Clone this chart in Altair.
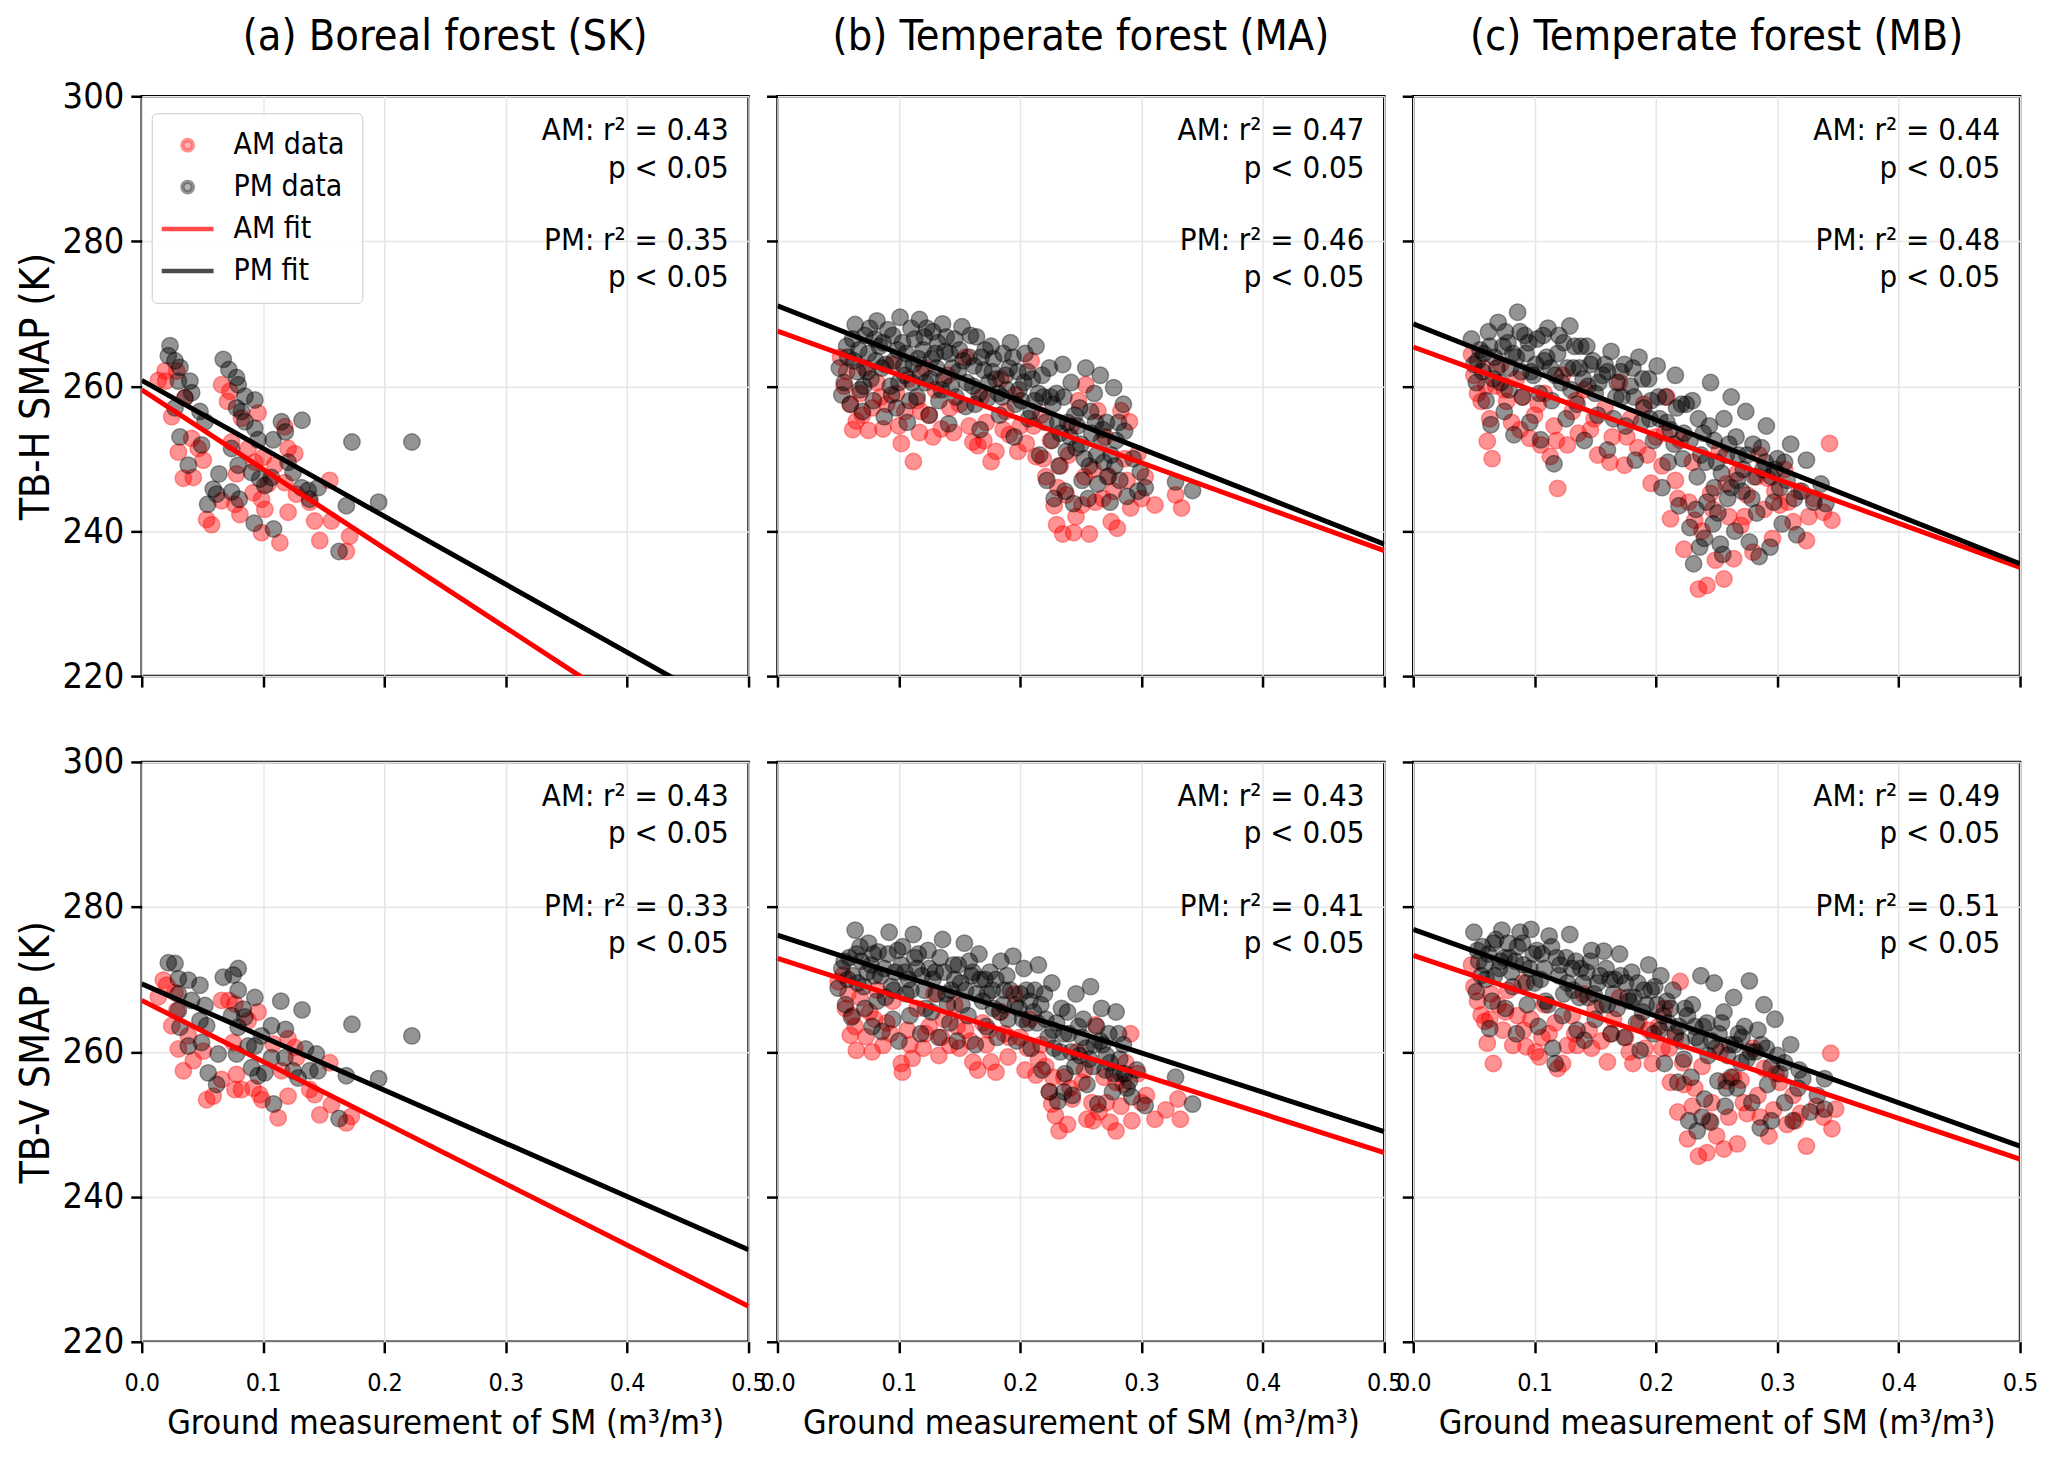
import altair as alt
import pandas as pd

FONT = "DejaVu Sans Condensed, DejaVu Sans"

SERIES = ["AM data", "PM data", "AM fit", "PM fit"]
X_TICKS = [0.0, 0.1, 0.2, 0.3, 0.4, 0.5]
Y_TICKS = [220, 240, 260, 280, 300]
FIT_X = [0.0, 0.5]
TITLES = ["(a) Boreal forest (SK)", "(b) Temperate forest (MA)", "(c) Temperate forest (MB)"]
Y_TITLES = ["TB-H SMAP (K)", "TB-V SMAP (K)"]
X_TITLE = "Ground measurement of SM (m³/m³)"

# ---------------- (a) SK, TB-H ----------------
SK_H_AM = [(0.0137, 260.8), (0.0192, 262.1), (0.0197, 260.7), (0.0247, 255.8), (0.0302, 250.9), (0.0343, 247.3),
           (0.0425, 247.4), (0.0411, 252.8), (0.0466, 251.4), (0.0507, 249.8), (0.0658, 260.2), (0.0707, 257.9),
           (0.0726, 259.3), (0.0959, 256.3), (0.0740, 252.3), (0.0781, 247.9), (0.0658, 244.2), (0.0535, 241.6),
           (0.0576, 240.9), (0.0768, 243.7), (0.0809, 242.3), (0.0918, 245.3), (0.0987, 244.4), (0.1014, 243.0),
           (0.0987, 239.8), (0.1138, 238.4), (0.1206, 242.6), (0.1001, 250.2), (0.1096, 249.1), (0.1179, 246.7),
           (0.1206, 251.4), (0.1261, 250.7), (0.1179, 254.4), (0.1275, 245.1), (0.1384, 244.0), (0.1425, 241.4),
           (0.1549, 247.0), (0.1563, 241.4), (0.1467, 238.7), (0.1686, 237.2), (0.1713, 239.3), (0.0288, 262.1),
           (0.0356, 258.4), (0.0877, 251.4), (0.0932, 249.5), (0.1042, 246.5), (0.0822, 255.6)]
SK_H_PM = [(0.0233, 265.6), (0.0219, 264.2), (0.0274, 263.5), (0.0315, 262.6), (0.0302, 260.7), (0.0397, 260.7),
           (0.0411, 259.1), (0.0356, 258.4), (0.0274, 257.0), (0.0480, 256.5), (0.0521, 255.1), (0.0315, 253.0),
           (0.0493, 251.9), (0.0384, 249.1), (0.0636, 247.9), (0.0589, 245.8), (0.0617, 245.1), (0.0543, 243.7),
           (0.0740, 245.4), (0.0803, 244.4), (0.0672, 263.7), (0.0718, 262.3), (0.0781, 261.2), (0.0795, 260.2),
           (0.0850, 258.6), (0.0932, 258.1), (0.0781, 257.0), (0.0822, 256.5), (0.0850, 255.1), (0.0932, 254.2),
           (0.0740, 251.4), (0.0795, 249.1), (0.0905, 248.1), (0.0973, 247.2), (0.1014, 246.3), (0.1069, 247.4),
           (0.1083, 252.6), (0.1151, 255.1), (0.1184, 253.7), (0.1321, 255.3), (0.1247, 248.1), (0.1316, 246.0),
           (0.1371, 245.6), (0.1453, 246.0), (0.1384, 244.4), (0.1732, 252.3), (0.2226, 252.3), (0.1686, 243.5),
           (0.1952, 244.0), (0.0927, 241.1), (0.1086, 240.3), (0.1626, 237.2), (0.0959, 252.6), (0.1206, 249.5)]

# ---------------- (a) SK, TB-V ----------------
SK_V_AM = [(0.0137, 267.6), (0.0178, 269.9), (0.0206, 269.2), (0.0247, 263.6), (0.0288, 265.7), (0.0302, 260.4),
           (0.0343, 257.4), (0.0425, 258.8), (0.0384, 262.2), (0.0507, 260.1), (0.0535, 253.4), (0.0589, 253.9),
           (0.0658, 256.2), (0.0658, 267.1), (0.0718, 267.1), (0.0768, 266.6), (0.0781, 256.9), (0.0768, 254.8),
           (0.0822, 254.8), (0.0918, 255.0), (0.0959, 265.5), (0.0973, 254.1), (0.0992, 253.4), (0.1124, 250.9),
           (0.1206, 253.9), (0.1151, 257.4), (0.1206, 261.8), (0.1261, 260.6), (0.1275, 259.2), (0.1384, 254.8),
           (0.1425, 254.1), (0.1467, 251.3), (0.1549, 258.5), (0.1563, 252.7), (0.1686, 250.2), (0.1727, 251.1),
           (0.1083, 261.1), (0.0754, 261.3), (0.0877, 264.3), (0.0274, 268.2)]
SK_V_PM = [(0.0219, 272.3), (0.0274, 272.2), (0.0302, 270.1), (0.0384, 269.9), (0.0480, 269.2), (0.0411, 267.1),
           (0.0302, 268.0), (0.0521, 266.4), (0.0480, 264.3), (0.0535, 263.6), (0.0302, 265.7), (0.0315, 263.4),
           (0.0384, 260.8), (0.0493, 261.3), (0.0630, 259.7), (0.0548, 257.1), (0.0617, 255.5), (0.0672, 270.3),
           (0.0754, 270.6), (0.0795, 271.5), (0.0795, 268.5), (0.0836, 265.9), (0.0850, 264.8), (0.0740, 265.0),
           (0.0795, 263.4), (0.0932, 267.5), (0.0781, 259.7), (0.0877, 260.8), (0.0932, 260.8), (0.0905, 257.8),
           (0.0959, 256.7), (0.1014, 257.1), (0.1069, 263.6), (0.1146, 267.0), (0.1184, 263.1), (0.1321, 265.8),
           (0.1069, 259.2), (0.1179, 259.2), (0.1247, 257.4), (0.1288, 256.4), (0.1349, 260.4), (0.1439, 259.7),
           (0.1384, 257.4), (0.1453, 257.4), (0.1732, 263.8), (0.2226, 262.2), (0.1686, 256.7), (0.1952, 256.3),
           (0.1086, 252.8), (0.1626, 250.8), (0.0987, 262.2)]

# ---------------- (b) MA, TB-H ----------------
MA_H_AM = [(0.052, 264.0), (0.055, 260.0), (0.057, 262.0), (0.060, 257.5), (0.062, 254.0), (0.065, 255.2), (0.068, 259.0),
           (0.072, 262.5), (0.075, 253.9), (0.078, 257.0), (0.082, 260.5), (0.087, 254.1), (0.090, 257.5), (0.094, 263.0),
           (0.098, 259.0), (0.102, 252.1), (0.105, 256.5), (0.108, 261.0), (0.112, 249.6), (0.115, 258.0), (0.117, 253.6),
           (0.121, 262.5), (0.125, 256.0), (0.130, 259.5), (0.135, 254.1), (0.140, 261.5), (0.145, 253.6), (0.150, 257.5),
           (0.155, 264.0), (0.161, 252.3), (0.165, 251.8), (0.168, 258.5), (0.172, 255.0), (0.176, 249.6), (0.180, 251.0),
           (0.184, 261.0), (0.188, 256.5), (0.191, 253.3), (0.196, 258.8), (0.200, 254.5), (0.205, 252.1), (0.209, 263.5),
           (0.213, 250.3), (0.217, 256.0), (0.221, 247.5), (0.225, 252.5), (0.228, 243.5), (0.230, 240.9), (0.233, 249.0),
           (0.235, 239.6), (0.238, 245.0), (0.242, 254.5), (0.246, 242.0), (0.251, 243.6), (0.254, 260.2), (0.257, 239.6),
           (0.260, 248.5), (0.264, 256.6), (0.268, 244.5), (0.273, 247.6), (0.275, 241.3), (0.280, 240.4), (0.283, 256.6),
           (0.286, 250.0), (0.290, 255.1), (0.291, 243.2), (0.297, 250.7), (0.303, 247.5), (0.311, 243.6), (0.328, 245.0),
           (0.333, 243.2), (0.248, 258.0), (0.270, 253.0),
           (0.070, 256.0), (0.085, 258.5), (0.100, 254.5), (0.118, 256.5), (0.128, 253.0), (0.142, 257.0), (0.158, 254.5),
           (0.170, 252.5), (0.186, 254.0), (0.198, 251.0), (0.211, 254.5), (0.219, 250.0), (0.231, 246.0), (0.240, 250.5),
           (0.253, 247.5), (0.262, 244.0), (0.277, 245.5), (0.288, 247.0), (0.300, 244.5), (0.244, 239.8)]
MA_H_PM = [(0.051, 262.5), (0.053, 258.8), (0.055, 260.5), (0.058, 264.0), (0.060, 257.5), (0.062, 266.5), (0.064, 268.5),
           (0.066, 262.0), (0.068, 259.5), (0.070, 256.5), (0.072, 267.0), (0.075, 264.5), (0.077, 261.0), (0.079, 258.0),
           (0.082, 269.0), (0.084, 265.5), (0.086, 262.5), (0.088, 255.8), (0.091, 267.8), (0.093, 260.0), (0.096, 263.5),
           (0.098, 257.0), (0.101, 269.5), (0.103, 266.0), (0.105, 261.5), (0.107, 255.0), (0.110, 268.0), (0.112, 263.0),
           (0.115, 258.5), (0.117, 269.2), (0.120, 265.0), (0.122, 260.5), (0.125, 256.0), (0.128, 267.5), (0.131, 262.5),
           (0.133, 258.0), (0.136, 268.6), (0.138, 264.8), (0.141, 254.8), (0.143, 260.0), (0.146, 266.5), (0.149, 262.0),
           (0.152, 268.2), (0.155, 257.2), (0.158, 264.0), (0.161, 260.0), (0.164, 266.8), (0.167, 254.0), (0.170, 262.2),
           (0.173, 258.3), (0.176, 265.5), (0.180, 261.0), (0.183, 256.0), (0.186, 264.5), (0.189, 259.5), (0.192, 266.0),
           (0.195, 253.0), (0.198, 262.0), (0.201, 258.0), (0.204, 264.5), (0.207, 255.5), (0.210, 261.0), (0.213, 265.5),
           (0.216, 250.5), (0.219, 258.5), (0.222, 247.0), (0.224, 262.5), (0.226, 252.5), (0.228, 244.5), (0.230, 259.0),
           (0.232, 249.0), (0.235, 263.0), (0.237, 245.5), (0.239, 255.0), (0.242, 260.5), (0.244, 243.8), (0.246, 251.5),
           (0.249, 257.0), (0.251, 247.0), (0.254, 262.5), (0.256, 244.5), (0.259, 253.5), (0.261, 259.0), (0.264, 246.5),
           (0.266, 261.5), (0.269, 249.5), (0.271, 255.0), (0.274, 244.0), (0.277, 259.8), (0.279, 252.5), (0.282, 247.0),
           (0.285, 257.5), (0.288, 244.8), (0.293, 250.0), (0.297, 245.5), (0.303, 246.0), (0.328, 246.8), (0.342, 245.6),
           (0.286, 253.8), (0.299, 248.2),
           (0.063, 263.5), (0.071, 260.0), (0.076, 268.0), (0.081, 263.5), (0.087, 266.0), (0.094, 258.8), (0.099, 265.0),
           (0.104, 262.8), (0.109, 258.0), (0.113, 266.5), (0.118, 261.8), (0.123, 268.0), (0.127, 263.8), (0.132, 266.0),
           (0.137, 261.0), (0.142, 264.5), (0.147, 258.5), (0.153, 263.5), (0.159, 267.0), (0.163, 257.5), (0.168, 264.0),
           (0.174, 260.5), (0.178, 263.8), (0.185, 258.5), (0.191, 262.5), (0.196, 257.5), (0.203, 260.5), (0.209, 256.5),
           (0.215, 259.0), (0.221, 255.0), (0.227, 257.5), (0.233, 253.5), (0.238, 251.0), (0.245, 256.0), (0.250, 252.0),
           (0.257, 249.0), (0.262, 255.0), (0.267, 252.5), (0.272, 247.5), (0.278, 249.0),
           (0.057, 265.5), (0.067, 265.0), (0.074, 262.0), (0.080, 266.5), (0.089, 263.0), (0.095, 267.0), (0.100, 260.5),
           (0.106, 264.5), (0.111, 260.5), (0.116, 263.8), (0.121, 266.8), (0.126, 261.0), (0.130, 264.5), (0.135, 259.5),
           (0.139, 266.8), (0.144, 262.5), (0.150, 265.0), (0.156, 260.5), (0.162, 262.8), (0.166, 259.0), (0.171, 265.0),
           (0.177, 262.0), (0.182, 259.0), (0.188, 261.5), (0.194, 264.0), (0.199, 259.5), (0.206, 262.0), (0.212, 258.0),
           (0.218, 261.5), (0.225, 258.5), (0.231, 255.0), (0.236, 258.5), (0.241, 253.0), (0.247, 254.5), (0.253, 250.0),
           (0.258, 256.5), (0.263, 250.5), (0.268, 254.0), (0.275, 250.5), (0.281, 255.0)]

# ---------------- (b) MA, TB-V ----------------
MA_V_AM = [(0.050, 269.7), (0.054, 270.6), (0.056, 266.0), (0.058, 268.0), (0.060, 262.3), (0.062, 265.0), (0.065, 260.2),
           (0.068, 267.5), (0.073, 262.1), (0.076, 265.5), (0.078, 260.0), (0.082, 268.5), (0.087, 260.9), (0.090, 264.0),
           (0.095, 267.0), (0.102, 258.4), (0.103, 257.2), (0.107, 263.0), (0.111, 259.1), (0.115, 266.0), (0.120, 260.5),
           (0.125, 263.5), (0.129, 268.0), (0.133, 259.5), (0.137, 264.5), (0.142, 260.9), (0.146, 266.5), (0.150, 260.5),
           (0.155, 263.0), (0.161, 258.6), (0.165, 257.5), (0.169, 264.0), (0.172, 261.0), (0.176, 258.6), (0.180, 257.2),
           (0.184, 265.5), (0.187, 262.5), (0.190, 259.3), (0.195, 268.0), (0.200, 262.0), (0.204, 257.5), (0.208, 264.5),
           (0.213, 256.8), (0.217, 261.0), (0.221, 258.0), (0.224, 254.5), (0.226, 252.8), (0.229, 251.2), (0.232, 249.1),
           (0.236, 256.5), (0.239, 250.0), (0.243, 253.5), (0.247, 260.0), (0.251, 255.8), (0.255, 250.7), (0.259, 253.0),
           (0.262, 263.7), (0.265, 251.7), (0.269, 256.5), (0.274, 250.3), (0.279, 249.1), (0.279, 255.8), (0.283, 252.5),
           (0.287, 258.5), (0.291, 262.5), (0.292, 250.5), (0.297, 257.0), (0.304, 254.0), (0.311, 250.7), (0.330, 253.5),
           (0.332, 250.7),
           (0.064, 263.5), (0.080, 264.5), (0.093, 262.5), (0.109, 261.0), (0.122, 262.5), (0.135, 262.0), (0.148, 263.5),
           (0.159, 261.5), (0.174, 263.0), (0.191, 262.0), (0.206, 260.5), (0.215, 259.0), (0.227, 256.5), (0.241, 255.0),
           (0.253, 257.5), (0.260, 250.5), (0.271, 253.0), (0.285, 255.5), (0.300, 253.0), (0.320, 252.0)]
MA_V_PM = [(0.050, 268.8), (0.053, 271.5), (0.056, 266.5), (0.059, 273.0), (0.061, 264.8), (0.064, 276.8), (0.066, 269.5),
           (0.069, 272.5), (0.072, 266.0), (0.075, 275.0), (0.078, 263.5), (0.080, 270.5), (0.083, 273.8), (0.086, 262.8),
           (0.089, 267.5), (0.092, 276.5), (0.095, 264.5), (0.097, 271.0), (0.100, 261.5), (0.103, 274.5), (0.106, 268.0),
           (0.109, 265.0), (0.112, 276.2), (0.115, 271.5), (0.118, 262.5), (0.121, 268.5), (0.124, 274.0), (0.127, 265.5),
           (0.130, 271.0), (0.133, 262.0), (0.136, 275.5), (0.139, 268.0), (0.142, 264.0), (0.145, 272.0), (0.148, 261.5),
           (0.151, 269.5), (0.154, 275.0), (0.157, 265.0), (0.160, 270.5), (0.163, 261.0), (0.166, 273.5), (0.169, 267.0),
           (0.172, 263.5), (0.175, 271.0), (0.178, 266.0), (0.181, 262.0), (0.184, 272.5), (0.187, 268.5), (0.190, 264.5),
           (0.194, 273.2), (0.197, 261.5), (0.200, 268.0), (0.203, 271.5), (0.206, 264.0), (0.209, 260.5), (0.212, 268.5),
           (0.215, 272.0), (0.218, 257.5), (0.221, 264.5), (0.224, 254.5), (0.226, 269.5), (0.228, 260.5), (0.231, 253.2),
           (0.234, 266.0), (0.237, 257.0), (0.240, 262.5), (0.243, 254.0), (0.246, 268.0), (0.249, 259.5), (0.252, 264.5),
           (0.255, 255.5), (0.258, 269.0), (0.261, 261.0), (0.264, 252.8), (0.267, 266.0), (0.270, 257.5), (0.273, 262.5),
           (0.276, 254.5), (0.279, 265.5), (0.282, 259.0), (0.285, 261.0), (0.288, 255.0), (0.292, 253.8), (0.296, 257.5),
           (0.303, 252.6), (0.328, 256.5), (0.342, 252.8),
           (0.058, 270.0), (0.065, 273.5), (0.071, 269.0), (0.077, 272.0), (0.082, 267.0), (0.088, 271.5), (0.094, 269.0),
           (0.099, 274.0), (0.105, 271.0), (0.110, 268.5), (0.116, 273.5), (0.122, 266.0), (0.128, 270.0), (0.134, 273.0),
           (0.140, 266.5), (0.146, 270.0), (0.152, 266.5), (0.158, 272.5), (0.164, 268.0), (0.171, 270.0), (0.177, 268.5),
           (0.183, 265.5), (0.189, 270.5), (0.196, 266.5), (0.202, 264.5), (0.208, 267.0), (0.214, 264.0), (0.220, 268.0),
           (0.227, 263.0), (0.233, 260.0), (0.239, 265.5), (0.245, 258.0), (0.251, 262.0), (0.257, 259.0), (0.263, 263.5),
           (0.268, 261.0), (0.274, 258.5), (0.281, 262.5), (0.236, 254.5), (0.286, 257.0),
           (0.055, 272.5), (0.062, 270.5), (0.068, 274.5), (0.074, 271.0), (0.079, 273.5), (0.085, 270.5), (0.091, 273.5),
           (0.096, 268.5), (0.102, 272.0), (0.108, 270.0), (0.113, 273.0), (0.119, 270.5), (0.125, 271.5), (0.131, 268.0),
           (0.137, 271.0), (0.143, 268.5), (0.149, 272.0), (0.155, 268.5), (0.161, 271.0), (0.167, 270.0), (0.173, 268.0),
           (0.180, 270.0), (0.186, 266.5), (0.192, 268.5), (0.199, 266.0), (0.205, 268.5), (0.211, 265.5), (0.217, 266.5),
           (0.223, 262.0), (0.230, 264.0), (0.236, 262.5), (0.242, 260.0), (0.248, 263.5), (0.254, 260.5), (0.260, 258.0),
           (0.266, 261.5), (0.271, 259.5), (0.277, 257.0), (0.283, 257.0), (0.290, 256.0)]

# ---------------- (c) MB, TB-H ----------------
MB_H_AM = [(0.048, 264.4), (0.050, 261.5), (0.053, 259.0), (0.056, 257.9), (0.058, 262.5), (0.061, 252.4), (0.063, 255.5),
           (0.065, 250.0), (0.068, 260.0), (0.072, 263.0), (0.077, 257.9), (0.081, 255.0), (0.085, 261.0), (0.090, 258.5),
           (0.096, 252.8), (0.100, 256.0), (0.105, 251.9), (0.108, 259.0), (0.113, 250.3), (0.116, 254.5), (0.119, 245.9),
           (0.123, 261.5), (0.127, 251.9), (0.131, 256.5), (0.136, 253.5), (0.141, 259.5), (0.146, 254.0), (0.152, 250.5),
           (0.158, 257.0), (0.164, 253.0), (0.170, 260.5), (0.174, 249.1), (0.179, 255.5), (0.185, 251.5), (0.190, 257.5),
           (0.196, 246.6), (0.200, 253.0), (0.205, 249.0), (0.209, 258.5), (0.212, 241.7), (0.216, 247.0), (0.220, 252.5),
           (0.223, 237.5), (0.227, 244.0), (0.230, 249.5), (0.235, 232.0), (0.238, 240.0), (0.242, 232.5), (0.245, 245.2),
           (0.249, 236.0), (0.252, 251.0), (0.256, 233.4), (0.260, 242.0), (0.264, 236.2), (0.267, 248.0), (0.270, 240.8),
           (0.275, 245.0), (0.280, 237.1), (0.285, 250.5), (0.289, 243.0), (0.292, 247.3), (0.296, 239.0), (0.302, 243.6),
           (0.306, 248.5), (0.313, 241.3), (0.318, 245.5), (0.324, 238.7), (0.330, 244.5), (0.338, 242.6), (0.343, 252.1),
           (0.345, 241.5),
           (0.060, 260.0), (0.075, 259.5), (0.088, 254.0), (0.103, 257.5), (0.118, 252.5), (0.134, 258.0), (0.149, 255.5),
           (0.162, 249.5), (0.176, 253.0), (0.193, 250.5), (0.207, 253.5), (0.218, 244.5), (0.232, 241.5), (0.247, 243.0),
           (0.258, 246.5), (0.273, 242.0), (0.283, 247.5), (0.298, 245.5), (0.309, 244.0), (0.326, 242.0)]
MB_H_PM = [(0.048, 266.5), (0.050, 263.0), (0.052, 260.5), (0.055, 265.0), (0.057, 262.0), (0.060, 258.0), (0.062, 267.5),
           (0.064, 254.7), (0.067, 264.0), (0.070, 268.8), (0.072, 260.5), (0.075, 256.5), (0.078, 266.0), (0.080, 262.5),
           (0.083, 253.3), (0.086, 270.2), (0.088, 267.5), (0.090, 258.5), (0.093, 264.5), (0.096, 255.0), (0.099, 261.5),
           (0.102, 266.5), (0.105, 252.6), (0.108, 263.5), (0.111, 268.0), (0.114, 258.0), (0.116, 249.3), (0.119, 264.5),
           (0.122, 260.5), (0.126, 255.5), (0.129, 268.3), (0.132, 262.5), (0.135, 257.5), (0.138, 265.5), (0.141, 252.5),
           (0.144, 260.0), (0.148, 263.5), (0.152, 256.0), (0.156, 261.5), (0.160, 251.2), (0.163, 264.8), (0.167, 258.5),
           (0.171, 262.0), (0.175, 254.5), (0.179, 260.0), (0.183, 249.8), (0.186, 264.0), (0.190, 257.0), (0.194, 261.0),
           (0.198, 252.5), (0.201, 262.8), (0.205, 246.0), (0.208, 258.5), (0.212, 254.0), (0.216, 261.5), (0.219, 243.5),
           (0.222, 250.0), (0.225, 257.5), (0.228, 240.5), (0.231, 235.5), (0.234, 247.5), (0.236, 237.8), (0.239, 253.5),
           (0.242, 244.0), (0.245, 260.5), (0.247, 241.0), (0.250, 249.5), (0.253, 238.2), (0.256, 255.5), (0.259, 244.5),
           (0.262, 258.5), (0.265, 240.0), (0.268, 250.5), (0.271, 245.5), (0.274, 256.5), (0.277, 238.5), (0.280, 252.0),
           (0.283, 242.5), (0.285, 236.5), (0.288, 248.5), (0.291, 254.5), (0.294, 237.8), (0.297, 244.0), (0.300, 250.0),
           (0.304, 241.0), (0.308, 247.0), (0.311, 252.0), (0.316, 239.5), (0.320, 245.5), (0.324, 249.8), (0.330, 244.0),
           (0.336, 246.5), (0.340, 243.8),
           (0.058, 264.5), (0.066, 261.0), (0.074, 265.5), (0.079, 259.5), (0.085, 264.0), (0.092, 267.0), (0.097, 262.0),
           (0.104, 259.0), (0.110, 264.0), (0.117, 261.5), (0.124, 266.0), (0.130, 259.5), (0.137, 262.5), (0.143, 265.5),
           (0.150, 259.0), (0.158, 263.0), (0.165, 255.5), (0.172, 258.5), (0.181, 262.5), (0.188, 255.0), (0.196, 258.0),
           (0.203, 255.5), (0.210, 249.5), (0.217, 257.0), (0.223, 253.5), (0.230, 258.0), (0.237, 250.5), (0.244, 254.5),
           (0.251, 242.5), (0.258, 250.5), (0.266, 253.0), (0.272, 248.5), (0.279, 244.5), (0.287, 251.5), (0.295, 247.5),
           (0.302, 246.0), (0.314, 244.5), (0.240, 239.0), (0.255, 236.8), (0.262, 246.0),
           (0.053, 263.5), (0.063, 265.5), (0.069, 262.5), (0.076, 267.5), (0.082, 264.5), (0.089, 262.0), (0.095, 266.0),
           (0.101, 263.0), (0.107, 267.0), (0.113, 262.5), (0.120, 267.0), (0.127, 262.5), (0.133, 265.5), (0.140, 261.0),
           (0.146, 263.0), (0.153, 260.5), (0.160, 262.0), (0.168, 260.5), (0.174, 263.0), (0.182, 258.5), (0.189, 261.0),
           (0.195, 255.5), (0.202, 258.5), (0.209, 255.0), (0.215, 252.0), (0.221, 257.5), (0.228, 252.5), (0.235, 255.5),
           (0.241, 249.5), (0.248, 252.5), (0.254, 248.0), (0.260, 252.0), (0.267, 247.0), (0.275, 250.5), (0.281, 247.5),
           (0.290, 249.5), (0.298, 248.5), (0.306, 249.5), (0.233, 243.0), (0.248, 246.0)]

# ---------------- (c) MB, TB-V ----------------
MB_V_AM = [(0.048, 272.0), (0.050, 269.0), (0.053, 267.0), (0.056, 265.1), (0.059, 264.2), (0.061, 261.2), (0.064, 268.0),
           (0.066, 258.4), (0.070, 266.5), (0.074, 263.0), (0.078, 268.5), (0.082, 260.9), (0.086, 265.0), (0.090, 269.5),
           (0.093, 260.7), (0.097, 264.5), (0.101, 260.0), (0.104, 259.3), (0.108, 266.5), (0.112, 262.5), (0.119, 257.7),
           (0.123, 258.4), (0.127, 260.9), (0.131, 265.0), (0.135, 260.9), (0.140, 268.0), (0.145, 263.0), (0.150, 266.0),
           (0.155, 261.5), (0.160, 258.6), (0.165, 264.5), (0.170, 267.5), (0.175, 262.0), (0.181, 258.4), (0.186, 264.0),
           (0.191, 260.5), (0.197, 258.4), (0.202, 263.5), (0.207, 266.0), (0.211, 260.5), (0.212, 255.8), (0.216, 262.0),
           (0.218, 251.7), (0.220, 269.7), (0.223, 255.5), (0.226, 248.0), (0.230, 252.5), (0.235, 245.6), (0.238, 258.0),
           (0.242, 246.1), (0.246, 253.0), (0.250, 248.4), (0.253, 260.0), (0.256, 246.6), (0.260, 251.0), (0.264, 256.5),
           (0.267, 247.3), (0.270, 256.1), (0.275, 251.5), (0.280, 260.5), (0.284, 254.0), (0.289, 257.7), (0.293, 248.4),
           (0.297, 252.0), (0.302, 255.8), (0.308, 250.0), (0.313, 254.0), (0.319, 251.5), (0.324, 247.0), (0.332, 252.5),
           (0.344, 259.8), (0.345, 249.4), (0.348, 252.1),
           (0.063, 264.5), (0.076, 265.5), (0.091, 263.0), (0.106, 262.0), (0.117, 264.0), (0.133, 262.5), (0.147, 260.5),
           (0.163, 262.5), (0.178, 260.0), (0.194, 263.0), (0.205, 260.5), (0.222, 258.5), (0.232, 255.0), (0.244, 250.5),
           (0.258, 256.0), (0.272, 253.0), (0.286, 251.0), (0.299, 257.0), (0.315, 250.5), (0.338, 251.0)]
MB_V_PM = [(0.050, 276.5), (0.052, 268.3), (0.054, 272.5), (0.057, 274.5), (0.060, 270.0), (0.063, 263.2), (0.065, 267.0),
           (0.068, 275.5), (0.071, 271.5), (0.073, 276.8), (0.076, 266.0), (0.079, 273.0), (0.082, 269.0), (0.085, 262.5),
           (0.088, 276.5), (0.091, 272.0), (0.094, 266.5), (0.097, 276.9), (0.100, 269.5), (0.103, 263.5), (0.106, 273.5),
           (0.109, 267.0), (0.112, 276.0), (0.115, 260.5), (0.117, 258.4), (0.120, 270.5), (0.123, 265.0), (0.126, 273.0),
           (0.129, 276.2), (0.132, 268.5), (0.135, 263.0), (0.138, 271.5), (0.141, 261.6), (0.144, 267.5), (0.147, 274.0),
           (0.150, 264.5), (0.154, 270.5), (0.157, 273.9), (0.160, 266.5), (0.163, 262.5), (0.166, 270.0), (0.170, 273.5),
           (0.174, 262.0), (0.177, 267.5), (0.180, 271.0), (0.184, 264.0), (0.187, 260.2), (0.190, 268.5), (0.194, 272.0),
           (0.198, 262.5), (0.201, 266.5), (0.204, 270.5), (0.207, 258.4), (0.210, 264.0), (0.214, 268.5), (0.218, 255.8),
           (0.221, 261.5), (0.224, 266.0), (0.227, 250.5), (0.229, 256.5), (0.232, 263.5), (0.234, 249.1), (0.237, 270.5),
           (0.240, 253.5), (0.243, 259.5), (0.245, 250.3), (0.248, 269.5), (0.251, 256.0), (0.254, 264.0), (0.257, 252.5),
           (0.261, 261.0), (0.264, 267.5), (0.267, 255.0), (0.270, 258.5), (0.273, 263.5), (0.277, 269.8), (0.279, 253.0),
           (0.282, 260.0), (0.286, 249.5), (0.289, 266.5), (0.292, 255.5), (0.295, 250.5), (0.298, 264.5), (0.302, 257.0),
           (0.306, 253.0), (0.311, 261.0), (0.313, 250.5), (0.317, 255.0), (0.321, 256.3), (0.327, 251.7), (0.333, 254.0),
           (0.339, 252.1), (0.339, 256.3),
           (0.056, 270.5), (0.062, 273.5), (0.067, 270.5), (0.075, 273.0), (0.081, 271.0), (0.086, 274.5), (0.093, 269.5),
           (0.099, 273.5), (0.105, 270.0), (0.111, 266.5), (0.118, 273.0), (0.124, 268.0), (0.131, 271.5), (0.137, 267.5),
           (0.143, 271.0), (0.149, 268.0), (0.156, 266.5), (0.162, 270.0), (0.168, 266.0), (0.175, 269.5), (0.182, 267.5),
           (0.189, 265.5), (0.196, 268.5), (0.203, 263.0), (0.209, 267.0), (0.216, 262.5), (0.223, 259.0), (0.230, 266.5),
           (0.236, 261.5), (0.242, 264.0), (0.249, 260.5), (0.256, 265.5), (0.262, 256.5), (0.268, 262.5), (0.275, 259.0),
           (0.284, 263.0), (0.291, 260.5), (0.300, 259.5), (0.238, 251.0), (0.258, 255.0),
           (0.053, 274.0), (0.059, 272.0), (0.066, 275.0), (0.072, 272.5), (0.078, 275.0), (0.084, 272.5), (0.090, 275.0),
           (0.096, 271.5), (0.102, 274.0), (0.108, 271.5), (0.114, 274.5), (0.121, 272.0), (0.127, 269.5), (0.134, 272.5),
           (0.140, 269.5), (0.146, 272.5), (0.152, 269.5), (0.159, 271.5), (0.165, 268.0), (0.171, 270.5), (0.178, 267.0),
           (0.185, 269.5), (0.192, 266.5), (0.199, 269.0), (0.206, 265.0), (0.212, 266.0), (0.219, 263.5), (0.226, 265.0),
           (0.233, 262.0), (0.239, 263.5), (0.246, 261.5), (0.252, 262.5), (0.259, 259.5), (0.265, 261.0), (0.271, 262.0),
           (0.278, 260.0), (0.287, 261.0), (0.295, 258.0), (0.306, 258.5), (0.318, 257.5)]

# Fitted lines: TB at x = 0.0 and x = 0.5
FIT_SK_H = {"AM": [259.5, 204.8], "PM": [260.8, 213.9]}
FIT_MA_H = {"AM": [267.6, 237.3], "PM": [271.1, 238.2]}
FIT_MB_H = {"AM": [265.4, 235.0], "PM": [268.6, 235.5]}
FIT_SK_V = {"AM": [267.1, 224.9], "PM": [269.4, 232.7]}
FIT_MA_V = {"AM": [272.9, 246.1], "PM": [276.1, 249.0]}
FIT_MB_V = {"AM": [273.3, 245.2], "PM": [276.9, 247.0]}

# r² (AM, PM)
R2_SK_H = (0.43, 0.35)
R2_MA_H = (0.47, 0.46)
R2_MB_H = (0.44, 0.48)
R2_SK_V = (0.43, 0.33)
R2_MA_V = (0.43, 0.41)
R2_MB_V = (0.49, 0.51)

W, H = 608, 581
RED, BLACK = "#ff0000", "#000000"
RED_A, BLACK_A = "rgba(255,0,0,0.6)", "rgba(0,0,0,0.6)"
LINE_PATH = "M-5,0H5"

color_scale = alt.Scale(domain=SERIES, range=[RED_A, BLACK_A, RED, BLACK])
fill_scale = alt.Scale(domain=SERIES, range=[RED_A, BLACK_A, "transparent", "transparent"])
shape_scale = alt.Scale(domain=SERIES, range=["circle", "circle", LINE_PATH, LINE_PATH])

LEGEND = alt.Legend(
    title=None, orient="none", legendX=10, legendY=17, padding=17, rowPadding=12,
    labelFont=FONT, labelFontSize=30, labelColor="black", labelOffset=31, labelLimit=400,
    symbolOffset=4, symbolSize=108, symbolStrokeWidth=4.5,
    fillColor="rgba(255,255,255,0.85)", strokeColor="#cccccc", cornerRadius=5,
)

ONE = pd.DataFrame({"k": [0]})


def text_block(lines, y):
    return alt.Chart(ONE).mark_text(
        text=lines, align="right", baseline="alphabetic", fontSize=31, font=FONT,
        lineHeight=37.5, color="black",
    ).encode(x=alt.value(W - 20), y=alt.value(y))


def panel(am, pm, fit, r2, row, col):
    pts = pd.DataFrame(
        [{"x": x, "y": y, "series": "AM data"} for x, y in am]
        + [{"x": x, "y": y, "series": "PM data"} for x, y in pm]
    )
    fits = pd.DataFrame({
        "x": FIT_X + FIT_X,
        "y": fit["AM"] + fit["PM"],
        "series": ["AM fit", "AM fit", "PM fit", "PM fit"],
    })
    leg = LEGEND if (row == 0 and col == 0) else None

    if row == 1:
        xaxis = alt.Axis(values=X_TICKS, format=".1f", title=X_TITLE)
    else:
        xaxis = alt.Axis(values=X_TICKS, format=".1f", labels=False, title=None)
    if col == 0:
        yaxis = alt.Axis(values=Y_TICKS, title=Y_TITLES[row])
    else:
        yaxis = alt.Axis(values=Y_TICKS, labels=False, title=None)

    xs = alt.Scale(domain=[0, 0.5], nice=False, zero=False)
    ys = alt.Scale(domain=[220, 300], nice=False, zero=False)

    points = alt.Chart(pts).mark_point(filled=False, size=270, strokeWidth=1.5).encode(
        x=alt.X("x:Q", scale=xs, axis=xaxis),
        y=alt.Y("y:Q", scale=ys, axis=yaxis),
        color=alt.Color("series:N", scale=color_scale, legend=leg),
        fill=alt.Fill("series:N", scale=fill_scale, legend=leg),
        shape=alt.Shape("series:N", scale=shape_scale, legend=leg),
    )
    lines = alt.Chart(fits).mark_line(strokeWidth=5, clip=True).encode(
        x=alt.X("x:Q", scale=xs),
        y=alt.Y("y:Q", scale=ys),
        color=alt.Color("series:N", scale=color_scale, legend=None),
        detail="series:N",
    )
    am_txt = text_block([f"AM: r² = {r2[0]:.2f}", "p < 0.05"], 44)
    pm_txt = text_block([f"PM: r² = {r2[1]:.2f}", "p < 0.05"], 154)
    layers = [points, lines, am_txt, pm_txt]
    if row == 0:
        ttl = alt.Chart(ONE).mark_text(
            text=TITLES[col], align="center", baseline="alphabetic", fontSize=43, font=FONT, color="black",
        ).encode(x=alt.value(W / 2), y=alt.value(-46))
        layers.append(ttl)
    return alt.layer(*layers).properties(width=W, height=H)


panels = [
    panel(SK_H_AM, SK_H_PM, FIT_SK_H, R2_SK_H, 0, 0),
    panel(MA_H_AM, MA_H_PM, FIT_MA_H, R2_MA_H, 0, 1),
    panel(MB_H_AM, MB_H_PM, FIT_MB_H, R2_MB_H, 0, 2),
    panel(SK_V_AM, SK_V_PM, FIT_SK_V, R2_SK_V, 1, 0),
    panel(MA_V_AM, MA_V_PM, FIT_MA_V, R2_MA_V, 1, 1),
    panel(MB_V_AM, MB_V_PM, FIT_MB_V, R2_MB_V, 1, 2),
]

chart = (
    alt.concat(*panels, columns=3, spacing={"row": 86, "column": 29}, bounds="flush")
    .resolve_scale(color="independent", fill="independent", shape="independent")
    .resolve_legend(color="independent", fill="independent", shape="independent")
    .configure_view(stroke="black", strokeWidth=2.5)
    .configure_axis(
        domain=False, grid=True, gridColor="#e6e6e6", gridWidth=1.5,
        tickColor="black", tickSize=11, tickWidth=2.5,
        labelFont=FONT, titleFont=FONT, labelColor="black", titleColor="black",
        titleFontWeight="normal",
    )
    .configure_axisX(labelFontSize=25, titleFontSize=34, labelPadding=18, titlePadding=11,
                     labelOverlap=False, labelFlush=False)
    .configure_axisY(labelFontSize=36, titleFontSize=41, labelPadding=7, titlePadding=5)
)

chart.save("out.html", embed_options={"renderer": "svg", "actions": False})
